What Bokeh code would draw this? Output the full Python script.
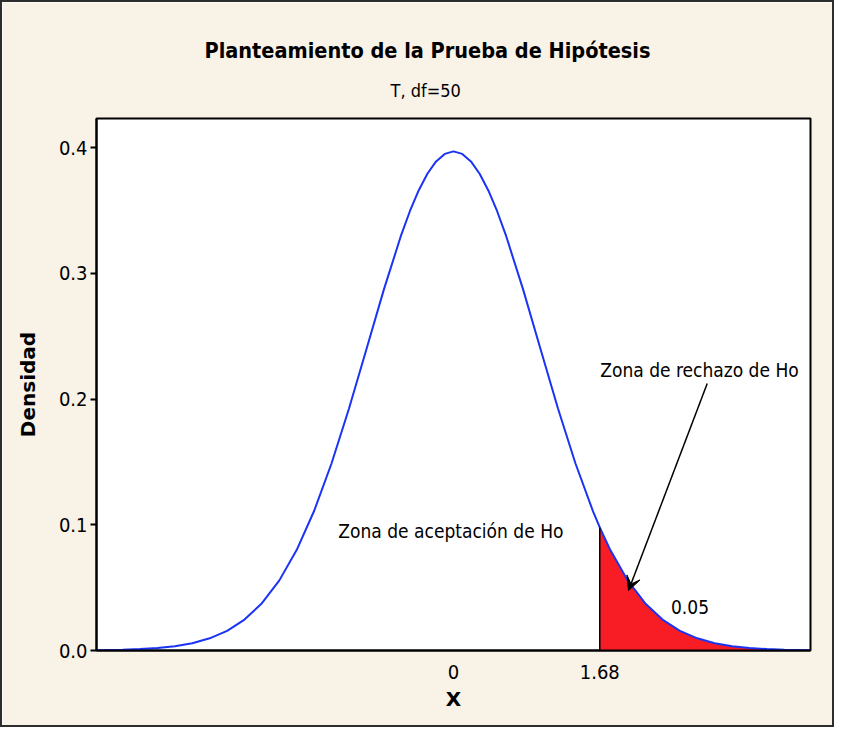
from bokeh.plotting import figure
from bokeh.models import Label, Title, Arrow, VeeHead, PrintfTickFormatter, Range1d
from bokeh.embed import file_html
from bokeh.resources import INLINE

# ---- data (T distribution, df = 50) ----
density_x = [-4.1, -4.0, -3.8, -3.6, -3.4, -3.2, -3.0, -2.8, -2.6, -2.4, -2.2,
             -2.0, -1.8, -1.6, -1.4, -1.2, -1.0, -0.8, -0.6, -0.5, -0.4, -0.3,
             -0.2, -0.1, 0.0, 0.1, 0.2, 0.3, 0.4, 0.5, 0.6, 0.8, 1.0, 1.2, 1.4,
             1.6, 1.68, 1.8, 2.0, 2.2, 2.4, 2.6, 2.8, 3.0, 3.2, 3.4, 3.6, 3.8,
             4.0, 4.1]
density_y = [0.00025, 0.00033, 0.00062, 0.00111, 0.00197, 0.00343, 0.00583,
             0.00968, 0.01565, 0.02461, 0.03763, 0.05577, 0.08006, 0.11112,
             0.14891, 0.19245, 0.23958, 0.28700, 0.33059, 0.34955, 0.36590,
             0.37916, 0.38894, 0.39494, 0.39695, 0.39494, 0.38894, 0.37916,
             0.36590, 0.34955, 0.33059, 0.28700, 0.23958, 0.19245, 0.14891,
             0.11112, 0.09787, 0.08006, 0.05577, 0.03763, 0.02461, 0.01565,
             0.00968, 0.00583, 0.00343, 0.00197, 0.00111, 0.00062, 0.00033,
             0.00025]
crit_value = 1.68
crit_density = 0.09787
y_ticks = [0.0, 0.1, 0.2, 0.3, 0.4]
x_ticks = [0, 1.68]

title_text = "Planteamiento de la Prueba de Hipótesis"
subtitle_text = "T, df=50"
x_label = "X"
y_label = "Densidad"
accept_text = "Zona de aceptación de Ho"
reject_text = "Zona de rechazo de Ho"
alpha_text = "0.05"

tail_x = [x for x in density_x if x >= crit_value]
tail_y = [y for x, y in zip(density_x, density_y) if x >= crit_value]

COND = "DejaVu Sans Condensed"
BOLDFONT = "DejaVu Sans"
CREAM = "#F8F2E7"

p = figure(frame_width=714, frame_height=532,
           min_border_left=94, min_border_right=22,
           min_border_top=116, min_border_bottom=75,
           x_range=Range1d(-4.1, 4.1), y_range=Range1d(0, 0.4231),
           output_backend="svg", toolbar_location=None,
           title=title_text,
           background_fill_color="white", border_fill_color=CREAM)
p.styles = {"border": "2px solid #2E2E2E"}

p.title.text_font = COND
p.title.text_font_style = "bold"
p.title.text_font_size = "21.5px"
p.title.text_color = "black"
p.title.align = "left"
p.title.offset = 108
p.title.standoff = -6

sub = Title(text=subtitle_text, text_font=COND, text_font_size="18px",
            text_font_style="normal", text_color="black",
            align="left", offset=294, standoff=36)
p.add_layout(sub, "above")

p.outline_line_color = "black"
p.outline_line_width = 2
p.xgrid.grid_line_color = None
p.ygrid.grid_line_color = None

# y axis
p.yaxis.ticker = y_ticks
p.yaxis.formatter = PrintfTickFormatter(format="%.1f")
p.yaxis.major_tick_out = 6
p.yaxis.major_tick_in = 0
p.yaxis.major_tick_line_width = 2
p.yaxis.minor_tick_line_color = None
p.yaxis.axis_line_width = 2
p.yaxis.major_label_text_font = COND
p.yaxis.major_label_text_font_size = "20px"
p.yaxis.major_label_text_color = "black"
p.yaxis.major_label_standoff = 3
p.yaxis.axis_label = y_label
p.yaxis.axis_label_text_font = BOLDFONT
p.yaxis.axis_label_text_font_style = "bold"
p.yaxis.axis_label_text_font_size = "20px"
p.yaxis.axis_label_text_color = "black"
p.yaxis.axis_label_standoff = 16

# x axis
p.xaxis.ticker = x_ticks
p.xaxis.major_tick_line_color = None
p.xaxis.minor_tick_line_color = None
p.xaxis.axis_line_width = 2
p.xaxis.major_label_text_font = COND
p.xaxis.major_label_text_font_size = "20px"
p.xaxis.major_label_text_color = "black"
p.xaxis.major_label_standoff = 8
p.xaxis.axis_label = x_label
p.xaxis.axis_label_text_font = BOLDFONT
p.xaxis.axis_label_text_font_style = "bold"
p.xaxis.axis_label_text_font_size = "20px"
p.xaxis.axis_label_text_color = "black"
p.xaxis.axis_label_standoff = 5

# rejection region and density curve
p.varea(x=tail_x, y1=[0] * len(tail_x), y2=tail_y, fill_color="#F81D25")
p.line(density_x, density_y, line_color="#1A33F5", line_width=2)
p.segment(x0=[crit_value], y0=[0], x1=[crit_value], y1=[crit_density],
          line_color="black", line_width=1.5)

# annotations
p.add_layout(Label(x=-0.03, y=0.0954, text=accept_text, text_align="center",
                   text_baseline="middle", text_font=COND,
                   text_font_size="19px", text_color="black"))
p.add_layout(Label(x=2.825, y=0.2227, text=reject_text, text_align="center",
                   text_baseline="middle", text_font=COND,
                   text_font_size="19px", text_color="black"))
p.add_layout(Label(x=2.716, y=0.0342, text=alpha_text, text_align="center",
                   text_baseline="middle", text_font=COND,
                   text_font_size="19px", text_color="black"))
p.add_layout(Arrow(end=VeeHead(size=14, fill_color="black", line_color="black"),
                   x_start=2.914, y_start=0.2123, x_end=2.010, y_end=0.0477,
                   line_width=1.5, line_color="black"))

open("out.html", "w").write(file_html(p, INLINE))
